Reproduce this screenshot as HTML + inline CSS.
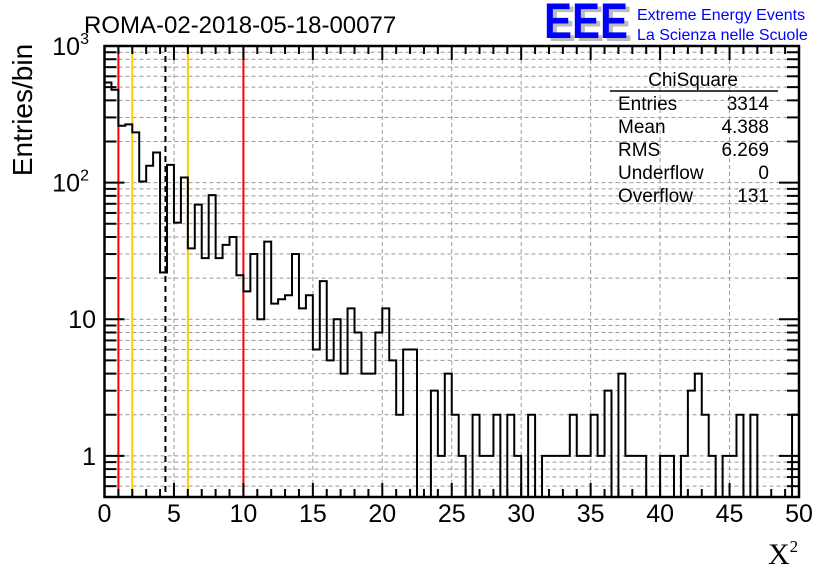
<!DOCTYPE html>
<html><head><meta charset="utf-8"><style>
html,body{margin:0;padding:0;background:#fff}
svg{display:block;font-family:"Liberation Sans",sans-serif}
</style></head><body>
<svg id="c" width="836" height="572" viewBox="0 0 836 572">
<defs><clipPath id="pc"><rect x="104.5" y="46" width="694.5" height="451"/></clipPath></defs>
<text x="84" y="33" font-size="24">ROMA-02-2018-05-18-00077</text>
<g>
<text x="548" y="41" font-size="50" font-weight="bold" fill="#bbb" textLength="84" lengthAdjust="spacingAndGlyphs">EEE</text>
<text x="544" y="38" font-size="50" font-weight="bold" fill="#0000ff" textLength="84" lengthAdjust="spacingAndGlyphs">EEE</text>
<text x="637" y="20" font-size="16" fill="#0000ff">Extreme Energy Events</text>
<text x="637" y="40" font-size="16" fill="#0000ff">La Scienza nelle Scuole</text>
</g>
<g id="grid"></g>
<g id="lines"></g>
<path id="hist" fill="none" stroke="#000" stroke-width="2" clip-path="url(#pc)"/>
<g id="axes"></g>
<g font-size="19">
<text x="693" y="86" text-anchor="middle">ChiSquare</text>
<line x1="610" y1="91" x2="778" y2="91" stroke="#000" stroke-width="1.5"/>
<text x="618" y="110">Entries</text><text x="769" y="110" text-anchor="end">3314</text>
<text x="618" y="133">Mean</text><text x="769" y="133" text-anchor="end">4.388</text>
<text x="618" y="156">RMS</text><text x="769" y="156" text-anchor="end">6.269</text>
<text x="618" y="179">Underflow</text><text x="769" y="179" text-anchor="end">0</text>
<text x="618" y="202">Overflow</text><text x="769" y="202" text-anchor="end">131</text>
</g>
<text transform="translate(32,110) rotate(-90)" text-anchor="middle" font-size="28">Entries/bin</text>
<text x="768" y="564" font-family="Liberation Serif,serif" font-size="30">X<tspan font-size="17" dy="-12">2</tspan></text>
</svg>
<script>
const counts=[540,478,261,267,233,102,133,166,22,135,51,109,33,69,28,81,28,35,40,21,16,30,10,37,13,14,15,30,12,15,6,19,5,10,4,12,8,4,4,8,12,5,2,6,6,0,0,3,1,4,2,1,0,2,1,1,2,0,2,1,0,2,0,1,1,1,1,2,1,1,2,1,3,0,4,1,1,1,0,0,1,1,0,1,3,4,2,1,0,1,1,2,0,2,0,0,0,0,0,2];
const binWidth=0.5;
const xTicks=[0,5,10,15,20,25,30,35,40,45,50];
const refRed=[1,10];
const refOrange=[2,6];
const meanVal=4.388;
const NS='http://www.w3.org/2000/svg';
const X0=104.5,X1=799,YT=46,YB=497,YMIN=0.5,YMAX=1000;
const xs=v=>X0+(v/50)*(X1-X0);
const ys=v=>{if(v<=0)return YB+10;return YB-(Math.log10(v)-Math.log10(YMIN))/(Math.log10(YMAX)-Math.log10(YMIN))*(YB-YT);};
function mk(tag,attrs,parent){const e=document.createElementNS(NS,tag);for(const k in attrs)e.setAttribute(k,attrs[k]);parent.appendChild(e);return e;}
const grid=document.getElementById('grid'),axes=document.getElementById('axes'),lines=document.getElementById('lines');
for(const t of xTicks){if(t===0||t===50)continue;
 const g=mk('line',{x1:xs(t),x2:xs(t),y1:YT,y2:YB,stroke:'#999','stroke-dasharray':'4,3','stroke-width':1},grid);
 
 }
const yMinor=[];
for(let d=-1;d<=2;d++)for(let m=1;m<=9;m++){const v=m*Math.pow(10,d);if(v>=YMIN&&v<YMAX)yMinor.push(v);}
for(const v of yMinor){
 const g=mk('line',{x1:X0,x2:X1,y1:ys(v),y2:ys(v),stroke:'#999','stroke-dasharray':'4,3','stroke-width':1},grid);
 
 
 const dec=Math.abs(Math.log10(v)-Math.round(Math.log10(v)))<1e-9;
 const L=dec?20:12;
 mk('line',{x1:X0,x2:X0+L,y1:ys(v),y2:ys(v),stroke:'#000','stroke-width':2},axes);
 mk('line',{x1:X1,x2:X1-L,y1:ys(v),y2:ys(v),stroke:'#000','stroke-width':2},axes);}
for(const v of refRed){const l=mk('line',{x1:xs(v),x2:xs(v),y1:YT,y2:YB,stroke:'#ff0000','stroke-width':2},lines);
 
 }
for(const v of refOrange){const l=mk('line',{x1:xs(v),x2:xs(v),y1:YT,y2:YB,stroke:'#ffcc00','stroke-width':2},lines);
 
 }
const ml=mk('line',{x1:xs(meanVal),x2:xs(meanVal),y1:YT,y2:YB,stroke:'#000','stroke-width':2,'stroke-dasharray':'6,4'},lines);


let d='M'+xs(0)+','+(YB+10);
counts.forEach((c,i)=>{const y=ys(c);d+=' L'+xs(i*binWidth)+','+y+' L'+xs((i+1)*binWidth)+','+y;});
d+=' L'+xs(counts.length*binWidth)+','+(YB+10);
document.getElementById('hist').setAttribute('d',d);
mk('rect',{x:X0,y:YT,width:X1-X0,height:YB-YT,fill:'none',stroke:'#000','stroke-width':2.5},axes);
for(let t=0;t<=50;t++){const major=t%5===0;const L=major?14:8;
 mk('line',{x1:xs(t),x2:xs(t),y1:YB,y2:YB-L,stroke:'#000','stroke-width':2},axes);
 mk('line',{x1:xs(t),x2:xs(t),y1:YT,y2:YT+L,stroke:'#000','stroke-width':2},axes);}
for(const t of xTicks){const tx=mk('text',{x:xs(t),y:522,'text-anchor':'middle','font-size':25},axes);tx.textContent=t;
 
 }
const yLab=[[1000,'10','3'],[100,'10','2'],[10,'10',''],[1,'1','']];
for(const [v,b,s] of yLab){const tx=mk('text',{x:s?89:96,y:ys(v)+9,'text-anchor':'end','font-size':25},axes);
 
 
 tx.textContent=b;if(s){const sp=mk('tspan',{'font-size':16,dy:-11},tx);sp.textContent=s;}}
</script>
</body></html>
